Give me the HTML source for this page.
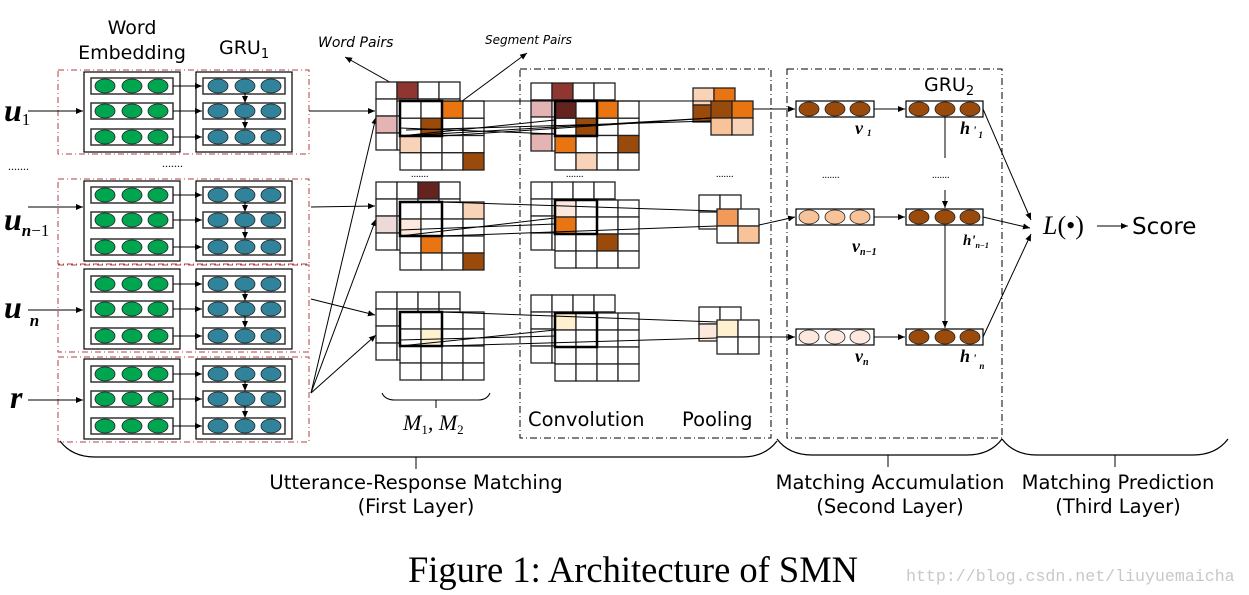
<!DOCTYPE html>
<html><head><meta charset="utf-8"><style>
html,body{margin:0;padding:0;background:#fff;width:1249px;height:595px;overflow:hidden}
svg{display:block}
.s{font-family:"DejaVu Sans","Liberation Sans",sans-serif}
.m{font-family:"Liberation Serif",serif;font-style:italic;font-weight:bold}
</style></head><body>
<svg id="g" width="1249" height="595" viewBox="0 0 1249 595" xmlns="http://www.w3.org/2000/svg">
<defs><marker id="a" markerWidth="8" markerHeight="8" refX="7" refY="4" orient="auto" markerUnits="userSpaceOnUse"><path d="M0,1 L7,4 L0,7z" fill="#000"/></marker></defs>
<g id="shapes"></g>
<text class="s" x="132" y="34" font-size="19" text-anchor="middle">Word</text>
<text class="s" x="132" y="59" font-size="19" text-anchor="middle">Embedding</text>
<text class="s" x="219" y="54" font-size="19">GRU<tspan font-size="13" dy="4">1</tspan></text>
<text class="s" x="318" y="47" font-size="14" font-style="italic">Word Pairs</text>
<text class="s" x="485" y="44" font-size="12" font-style="italic">Segment Pairs</text>
<text class="m" x="4" y="121" font-size="32">u<tspan font-size="17" font-weight="normal" font-style="normal" dy="4">1</tspan></text>
<text class="m" x="4" y="230" font-size="32">u<tspan font-size="17" dy="6">n</tspan><tspan font-size="17" font-weight="normal" font-style="normal">−1</tspan></text>
<text class="m" x="4" y="318" font-size="32">u<tspan font-size="17" dx="8" dy="8">n</tspan></text>
<text class="m" x="10" y="408" font-size="32">r</text>
<text x="8" y="170" font-size="12">.......</text>
<text x="162" y="167" font-size="12">.......</text>
<text x="411" y="177" font-size="10">.......</text>
<text x="566" y="177" font-size="10">.......</text>
<text x="716" y="177" font-size="10">.......</text>
<text x="822" y="178" font-size="10">.......</text>
<text x="932" y="178" font-size="10">.......</text>
<text x="403" y="430" font-size="22" font-family="Liberation Serif,serif" font-style="italic">M<tspan font-size="13" font-style="normal" dy="4">1</tspan><tspan dy="-4">, M</tspan><tspan font-size="13" font-style="normal" dy="4">2</tspan></text>
<text class="s" x="528" y="426" font-size="19.5">Convolution</text>
<text class="s" x="682" y="426" font-size="19.5">Pooling</text>
<text class="s" x="924" y="91" font-size="19">GRU<tspan font-size="13" dy="4">2</tspan></text>
<text class="m" x="855" y="134" font-size="18">v<tspan font-size="9" dx="4" dy="2">1</tspan></text>
<text class="m" x="960" y="134" font-size="18">h<tspan font-size="12" dx="3">'</tspan><tspan font-size="9" dx="2" dy="4">1</tspan></text>
<text class="m" x="852" y="252" font-size="18">v<tspan font-size="10" dy="3">n−1</tspan></text>
<text class="m" x="963" y="245" font-size="15">h'<tspan font-size="8" dy="3">n−1</tspan></text>
<text class="m" x="855" y="362" font-size="18">v<tspan font-size="10" dy="3">n</tspan></text>
<text class="m" x="960" y="362" font-size="18">h<tspan font-size="12" dx="3">'</tspan><tspan font-size="9" dx="3" dy="7">n</tspan></text>
<text x="1043" y="234" font-size="26" font-family="Liberation Serif,serif"><tspan font-style="italic">L</tspan>(•)</text>
<text class="s" x="1132" y="234" font-size="23">Score</text>
<text class="s" x="416" y="489" font-size="19.5" text-anchor="middle">Utterance-Response Matching</text>
<text class="s" x="416" y="513" font-size="19.5" text-anchor="middle">(First Layer)</text>
<text class="s" x="890" y="489" font-size="19.5" text-anchor="middle">Matching Accumulation</text>
<text class="s" x="890" y="513" font-size="19.5" text-anchor="middle">(Second Layer)</text>
<text class="s" x="1118" y="489" font-size="19.5" text-anchor="middle">Matching Prediction</text>
<text class="s" x="1118" y="513" font-size="19.5" text-anchor="middle">(Third Layer)</text>
<text x="633" y="582" font-size="36.5" font-family="Liberation Serif,serif" text-anchor="middle">Figure 1: Architecture of SMN</text>
<text x="906" y="581" font-size="16.6" font-family="Liberation Mono,monospace" fill="#c8c8c8">http://blog.csdn.net/liuyuemaicha</text>
</svg>
<script>
var S=document.getElementById('shapes'),NS='http://www.w3.org/2000/svg';
function el(t,a){var e=document.createElementNS(NS,t);for(var k in a)e.setAttribute(k,a[k]);S.appendChild(e);return e}
function L(x1,y1,x2,y2,ar,w){var e=el('line',{x1:x1,y1:y1,x2:x2,y2:y2,stroke:'#000','stroke-width':w||1});if(ar)e.setAttribute('marker-end','url(#a)');}
function R(x,y,w,h,f,sw,st){el('rect',{x:x,y:y,width:w,height:h,fill:f||'none',stroke:st||'#000','stroke-width':sw||1})}
var blocks=[[70,154,72,[78,103,129]],[179,264,181,[187,212,239]],[265,352,269,[276,301,328]],[357,442,359,[366,391,418]]];
var ys=[111,207,310,400];
blocks.forEach(function(b,i){
 R(58,b[0],251,b[1]-b[0],'none',1,'#b04040');S.lastChild.setAttribute('stroke-dasharray','6,3,1,3');
 R(84,b[2],96,80,'#fff',1.2);R(196,b[2],96,80,'#fff',1.2);
 b[3].forEach(function(y,j){
  R(91,y,82,16,'#fff',1.5,'#333');R(203,y,82,16,'#fff',1.5,'#333');
  [105,132,158].forEach(function(x){el('ellipse',{cx:x,cy:y+8,rx:10,ry:7,fill:'#00a550',stroke:'#222','stroke-width':0.8})});
  [218,245,271].forEach(function(x){el('ellipse',{cx:x,cy:y+8,rx:10,ry:7,fill:'#31839b',stroke:'#222','stroke-width':0.8})});
  L(173,y+8,202,y+8,1);
  if(j<2)L(245,y+15,245,b[3][j+1],1);
 });
 L(28,ys[i],83,ys[i],1);
});
L(309,111,375,111,1);L(311,207,375,206,1);L(311,299,375,315,1);
L(311,393,376,117,1);L(311,393,376,219,1);L(311,393,376,335,1);
L(395,85,345,57,1);L(450,110,527,53,1);
function grid(x,y,c,r,cw,ch,col){for(var i=0;i<r;i++)for(var j=0;j<c;j++){var f=(col&&col[i+','+j])||'#fff';R(x+j*cw,y+i*ch,cw,ch,f,1.3,'#222');}}
var DR='#8f3631',DD='#652320',PK='#e4b4b4',OR='#e87511',BR='#9a4a0b',PE='#f9d3b8',LP='#fce8dc',LY='#fef1d0',PP='#eed9d9';
grid(376,82,4,4,21,17,{'0,1':DR,'2,0':PK});grid(400,101,4,4,21,17.25,{'0,2':OR,'1,1':BR,'2,0':PE,'3,3':BR});R(400,101,42,35,'none',2.5);
grid(376,182,4,4,21,17,{'0,2':DD,'2,0':PP});grid(400,202,4,4,21,17,{'0,3':PE,'1,0':LP,'2,1':OR,'3,3':BR});R(400,202,42,34,'none',2.5);
grid(376,292,4,4,21,17,{});grid(400,312,4,4,21,17,{'1,1':LY});R(400,312,42,34,'none',2.5);
el('rect',{x:520,y:69,width:251,height:369,fill:'none',stroke:'#000','stroke-dasharray':'7,3,1,3'});
el('rect',{x:787,y:69,width:215,height:369,fill:'none',stroke:'#000','stroke-dasharray':'7,3,1,3'});
grid(531,83,4,4,21,17,{'0,1':DR,'1,0':PK,'3,0':PK});grid(555,101,4,4,21,17.25,{'0,0':DD,'0,2':OR,'1,1':BR,'2,0':OR,'2,3':BR,'3,1':PE});R(555,101,42,35,'none',2.5);
grid(531,182,4,4,21,17,{});grid(555,200,4,4,21,17,{'0,0':LP,'1,0':OR,'2,2':BR});R(555,200,42,34,'none',2.5);
grid(531,295,4,4,21,17,{});grid(555,313,4,4,21,17,{'0,0':LY});R(555,313,42,34,'none',2.5);
grid(693,88,2,2,21,17,{'0,0':PE,'0,1':OR,'1,0':BR});grid(711,101,2,2,21,17,{'0,0':BR,'0,1':OR,'1,0':'#f9c39a','1,1':PE});
grid(699,195,2,2,21,17,{});grid(717,209,2,2,21,17,{'0,0':'#f29a5a','1,1':'#f9c39a'});
grid(699,307,2,2,21,17,{'1,0':LP});grid(717,320,2,2,21,17,{'0,0':LY});
[[442,101,711,101],[400,136,711,118],[406,130,711,121],[397,101,555,101]].forEach(function(l){L(l[0],l[1],l[2],l[3])});
L(400,136,555,120);L(400,128,555,134);L(442,136,711,118);
L(442,202,717,211);L(400,236,555,218);L(442,236,717,226);L(400,230,555,224);
L(442,312,717,322);L(400,346,555,330);L(442,346,717,338);L(400,340,555,336);
var rows=[[109,'#9a4a0b'],[217,'#f9c39a'],[337,'#fce8dc']];
rows.forEach(function(r,i){var y=r[0];
 R(796,y-8,78,16,'#fff',1.2);R(906,y-8,77,16,'#fff',1.2);
 [809,835,860].forEach(function(x){el('ellipse',{cx:x,cy:y,rx:10,ry:7,fill:r[1],stroke:'#222','stroke-width':0.8})});
 [919,945,970].forEach(function(x){el('ellipse',{cx:x,cy:y,rx:10,ry:7,fill:'#9a4a0b',stroke:'#222','stroke-width':0.8})});
 L(874,y,905,y,1);
});
L(753,109,795,109,1);L(759,225,795,217,1);L(759,337,795,337,1);
L(945,117,945,158);L(945,190,945,208,1);L(945,225,945,328,1);
L(983,109,1031,220,1);L(983,217,1030,228,1);L(983,337,1031,234,1);
L(1097,226,1128,226,1);
function brace(x1,x2,xm,y){el('path',{d:'M'+x1+','+(y-16)+' Q'+(x1+12)+','+y+' '+(x1+35)+','+y+' L'+(x2-35)+','+y+' Q'+(x2-12)+','+y+' '+x2+','+(y-16),fill:'none',stroke:'#000','stroke-width':1.2});L(xm,y,xm,y+12);}
brace(60,777,416,457);brace(777,1002,888,455);brace(1002,1228,1115,455);
el('path',{d:'M382,393 Q385,400 395,400 L478,400 Q487,400 490,393',fill:'none',stroke:'#000'});L(436,400,436,408);
</script>
</body></html>
